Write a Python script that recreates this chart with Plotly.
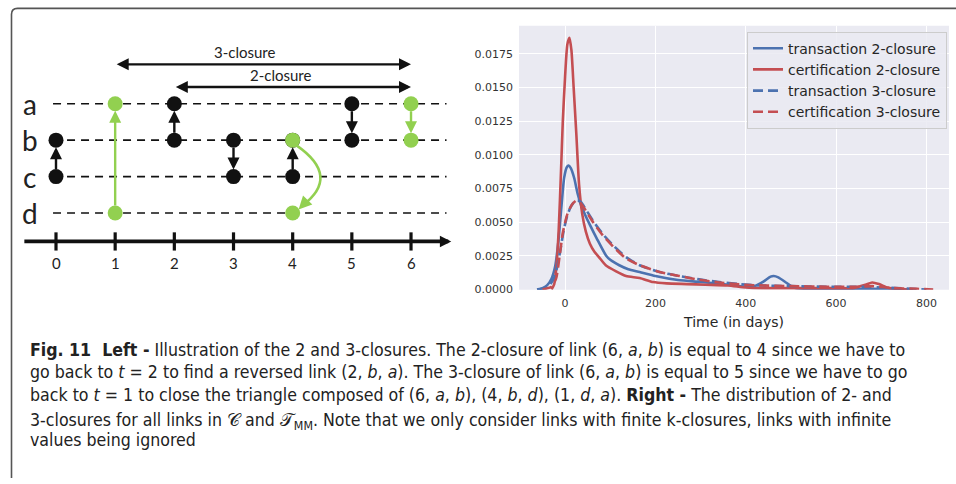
import plotly.graph_objects as go

# ---------------- data: density curves (right panel) ----------------
tr2_days = [-62, -50, -40, -30, -22, -15, -8, -2, 4, 8, 13, 20, 28, 36, 45, 55, 70, 91, 100, 120, 140,
            165, 200, 250, 300, 350, 400, 420, 440, 455, 462, 472, 490, 505, 530, 600, 680, 740, 770]
tr2_vals = [0, 0.0001, 0.0003, 0.0008, 0.0017, 0.0035, 0.0062, 0.0083, 0.0091, 0.0092, 0.009, 0.0083,
            0.0071, 0.0062, 0.0055, 0.0048, 0.0038, 0.0025, 0.0022, 0.0018, 0.0015, 0.0013, 0.001,
            0.0007, 0.00055, 0.0004, 0.0002, 0.00025, 0.0006, 0.00095, 0.001, 0.0009, 0.0005, 0.00015,
            0.00006, 0.00005, 0.00004, 0.00001, 0]

ce2_days = [-30, -24, -19, -14, -9, -5, 0, 5, 9.6, 14, 19, 25, 31, 38, 46, 55, 65, 75, 90, 113, 135, 165,
            195, 225, 270, 310, 360, 400, 440, 500, 580, 640, 665, 680, 695, 715, 740, 760]
ce2_vals = [0, 0.0004, 0.0018, 0.0045, 0.0088, 0.0125, 0.0158, 0.0182, 0.0187, 0.0178, 0.015, 0.0115,
            0.0078, 0.0056, 0.0043, 0.0034, 0.0028, 0.0024, 0.0018, 0.00135, 0.001, 0.00085, 0.00055,
            0.00045, 0.0004, 0.00035, 0.0003, 0.00015, 0.0001, 0.0001, 0.0001, 0.00012, 0.00035,
            0.00052, 0.0004, 0.00012, 0.00003, 0]

tr3_days = [-62, -45, -35, -25, -18, -10, -3, 5, 12, 20, 28, 35, 45, 62, 84, 106, 135, 165, 209, 253,
            297, 341, 385, 430, 500, 580, 650, 720, 780, 800]
tr3_vals = [0, 0.0001, 0.0003, 0.0008, 0.0016, 0.003, 0.0044, 0.0055, 0.0061, 0.0065, 0.0066, 0.0065,
            0.006, 0.0051, 0.0041, 0.0033, 0.0024, 0.0018, 0.0013, 0.001, 0.00075, 0.00055, 0.0004,
            0.0003, 0.00025, 0.0002, 0.0002, 0.00012, 0.00003, 0]

ce3_days = [-50, -30, -20, -12, -5, 5, 15, 25, 35, 45, 62, 84, 106, 135, 165, 209, 253, 297, 341, 385,
            430, 500, 580, 650, 680, 720, 780, 815]
ce3_vals = [0, 0.0002, 0.0008, 0.0025, 0.0042, 0.0056, 0.0063, 0.0066, 0.0064, 0.0059, 0.005, 0.004,
            0.0032, 0.0023, 0.0018, 0.0013, 0.001, 0.00072, 0.00052, 0.00038, 0.0003, 0.00025, 0.0002,
            0.0002, 0.00025, 0.00012, 0.00004, 0]

series_names = ["transaction 2-closure", "certification 2-closure",
                "transaction 3-closure", "certification 3-closure"]
x_ticks = [0, 200, 400, 600, 800]
y_ticks = [0, 0.0025, 0.005, 0.0075, 0.01, 0.0125, 0.015, 0.0175]

# ---------------- data: closure diagram (left panel) ----------------
times = [0, 1, 2, 3, 4, 5, 6]
nodes = ["a", "b", "c", "d"]
link_t = [0, 1, 2, 3, 4, 5, 6, 4]
link_src = ["c", "d", "b", "b", "c", "a", "a", "b"]
link_dst = ["b", "a", "a", "c", "b", "b", "b", "d"]
link_green = [False, True, False, False, False, False, True, True]
link_curved = [False, False, False, False, False, False, False, True]
closures = [("3-closure", 1, 6), ("2-closure", 2, 6)]

caption_lines = [
    "<b>Fig. 11  Left -</b> Illustration of the 2 and 3-closures. The 2-closure of link (6, <i>a</i>, <i>b</i>) is equal to 4 since we have to",
    "go back to <i>t</i> = 2 to find a reversed link (2, <i>b</i>, <i>a</i>). The 3-closure of link (6, <i>a</i>, <i>b</i>) is equal to 5 since we have to go",
    "back to <i>t</i> = 1 to close the triangle composed of (6, <i>a</i>, <i>b</i>), (4, <i>b</i>, <i>d</i>), (1, <i>d</i>, <i>a</i>). <b>Right -</b> The distribution of 2- and",
    "3-closures for all links in \U0001D49E and \U0001D4AF<sub>MM</sub>. Note that we only consider links with finite k-closures, links with infinite",
    "values being ignored",
]

# ---------------- styling ----------------
W, H = 956, 484
BLUE = "#4C72B0"
RED = "#C44E52"
GREEN = "#92D050"
BLACK = "#111111"
row_of = {n: i for i, n in enumerate(nodes)}


def px_x(p):
    return p / W


def px_y(p):
    return 1 - p / H


fig = go.Figure()

# right panel curves
curve_specs = [
    (tr2_days, tr2_vals, BLUE, "solid"),
    (ce2_days, ce2_vals, RED, "solid"),
    (tr3_days, tr3_vals, BLUE, "10px,5px"),
    (ce3_days, ce3_vals, RED, "10px,5px"),
]
for (xs, ys, col, dash), name in zip(curve_specs, series_names):
    fig.add_trace(go.Scatter(x=xs, y=ys, mode="lines", name=name,
                             line=dict(color=col, width=2.6, dash=dash, shape="spline", smoothing=0.6),
                             xaxis="x", yaxis="y", hoverinfo="skip"))

# right panel background (as a shape so the left panel stays white)
fig.add_shape(type="rect", xref="paper", yref="paper",
              x0=px_x(519), x1=px_x(949), y0=px_y(293.5), y1=px_y(26),
              fillcolor="#EAEAF2", line=dict(width=0), layer="below")

# ---------------- left diagram ----------------
for n in nodes:
    r = row_of[n]
    fig.add_trace(go.Scatter(x=[-0.05, 6.6], y=[r, r], mode="lines", xaxis="x2", yaxis="y2",
                             line=dict(color=BLACK, width=1.6, dash="8px,6px"),
                             showlegend=False, hoverinfo="skip"))
    fig.add_annotation(x=-0.44, y=r, xref="x2", yref="y2", text=n, showarrow=False,
                       font=dict(family="Lato, Open Sans, sans-serif", size=28, color="#222222"),
                       xanchor="center", yanchor="middle")

# timeline
axis_row = 3.78
fig.add_annotation(x=6.68, y=axis_row, ax=-0.56, ay=axis_row, xref="x2", yref="y2",
                   axref="x2", ayref="y2", text="", showarrow=True, arrowhead=2,
                   arrowsize=0.6, arrowwidth=3.8, arrowcolor=BLACK)
tx, ty = [], []
for t in times:
    tx += [t, t, None]
    ty += [axis_row - 0.25, axis_row + 0.25, None]
    fig.add_annotation(x=t, y=axis_row + 0.6, xref="x2", yref="y2", text=str(t), showarrow=False,
                       font=dict(family="Lato, Open Sans, sans-serif", size=15, color="#222222"),
                       xanchor="center", yanchor="middle")
fig.add_trace(go.Scatter(x=tx, y=ty, mode="lines", xaxis="x2", yaxis="y2",
                         line=dict(color=BLACK, width=3.2), showlegend=False, hoverinfo="skip"))

# closure spans
closure_rows = [-1.08, -0.46]
closure_text_x = [3.19, 3.80]
for (label, t0, t1), r, txp in zip(closures, closure_rows, closure_text_x):
    fig.add_annotation(x=t1, y=r, ax=t0, ay=r, xref="x2", yref="y2", axref="x2", ayref="y2",
                       text="", showarrow=True, arrowhead=2, arrowside="end+start",
                       arrowsize=1, arrowwidth=2.4, arrowcolor=BLACK)
    fig.add_annotation(x=txp, y=r - 0.33, xref="x2", yref="y2", text=label, showarrow=False,
                       font=dict(family="Lato, Open Sans, sans-serif", size=15, color="#222222"),
                       xanchor="center", yanchor="middle")

# links (black first, green on top)
order = sorted(range(len(link_t)), key=lambda i: link_green[i])
for i in order:
    t = link_t[i]
    r0, r1 = row_of[link_src[i]], row_of[link_dst[i]]
    col = GREEN if link_green[i] else BLACK
    if link_curved[i]:
        cx = t + 0.82
        cy = (r0 + r1) / 2
        fig.add_shape(type="path", xref="x2", yref="y2",
                      path=f"M {t + 0.07},{r0 + 0.15} Q {cx},{cy} {t + 0.16},{r1 - 0.2}",
                      line=dict(color=col, width=2.6))
        fig.add_annotation(x=t + 0.1, y=r1 - 0.1, ax=t + 0.22, ay=r1 - 0.3, xref="x2", yref="y2",
                           axref="x2", ayref="y2", text="", showarrow=True, arrowhead=2,
                           arrowsize=1, arrowwidth=2.6, arrowcolor=col)
    else:
        fig.add_annotation(x=t, y=r1, ax=t, ay=r0, xref="x2", yref="y2", axref="x2", ayref="y2",
                           text="", showarrow=True, arrowhead=2, arrowsize=1, arrowwidth=2.4,
                           arrowcolor=col, standoff=7, startstandoff=6)
    fig.add_trace(go.Scatter(x=[t, t], y=[r0, r1], mode="markers", xaxis="x2", yaxis="y2",
                             marker=dict(color=col, size=15, line=dict(width=0)),
                             showlegend=False, hoverinfo="skip"))

# caption
caption_y = [354, 377, 400, 427, 446]
for line, yc in zip(caption_lines, caption_y):
    fig.add_annotation(x=px_x(28), y=px_y(yc), xref="paper", yref="paper", text=line,
                       showarrow=False, xanchor="left", yanchor="middle",
                       font=dict(family="Liberation Sans Narrow, DejaVu Sans Condensed, Roboto Condensed, sans-serif",
                                 size=17.6, color="#222222"))

# outer frame (rounded top-left corner)
rr = 6
frame = (f"M {px_x(956)},{px_y(8.5)} L {px_x(11.5 + rr)},{px_y(8.5)} "
         f"Q {px_x(11.5)},{px_y(8.5)} {px_x(11.5)},{px_y(8.5 + rr)} L {px_x(11.5)},{px_y(484)}")
fig.add_shape(type="path", xref="paper", yref="paper", path=frame,
              line=dict(color="#555555", width=1.6))

# ---------------- layout ----------------
tick_font = dict(family="DejaVu Sans, sans-serif", size=11, color="#333333")
fig.update_layout(
    width=W, height=H, margin=dict(l=0, r=0, t=0, b=0),
    paper_bgcolor="white", plot_bgcolor="rgba(0,0,0,0)",
    showlegend=True,
    legend=dict(x=px_x(747), y=px_y(32), xanchor="left", yanchor="top",
                bgcolor="rgba(234,234,242,0.85)", bordercolor="#CCCCCC", borderwidth=1,
                font=dict(family="DejaVu Sans, sans-serif", size=14, color="#262626"),
                tracegroupgap=0, itemwidth=30),
    xaxis=dict(domain=[px_x(519), px_x(949)], range=[-102, 850], tickvals=x_ticks,
               tickfont=tick_font, showgrid=True, gridcolor="white", gridwidth=1.2,
               zeroline=False, showline=False, ticks="", anchor="y", ticklabelstandoff=5,
               title=dict(text="Time (in days)", font=dict(family="DejaVu Sans, sans-serif",
                                                           size=14, color="#262626"), standoff=8)),
    yaxis=dict(domain=[px_y(293.5), px_y(26)], range=[-0.00003, 0.0196], tickvals=y_ticks,
               tickformat=".4f", tickfont=tick_font, showgrid=True, gridcolor="white",
               gridwidth=1.2, zeroline=False, showline=False, ticks="", anchor="x",
               ticklabelstandoff=5),
    xaxis2=dict(domain=[0, 1], range=[-56 / 59.17, (W - 56) / 59.17], visible=False,
                anchor="y2", fixedrange=True),
    yaxis2=dict(domain=[0, 1], range=[(H - 105) / 36.9, -105 / 36.9], visible=False,
                anchor="x2", fixedrange=True),
)

fig.write_html("out.html")
